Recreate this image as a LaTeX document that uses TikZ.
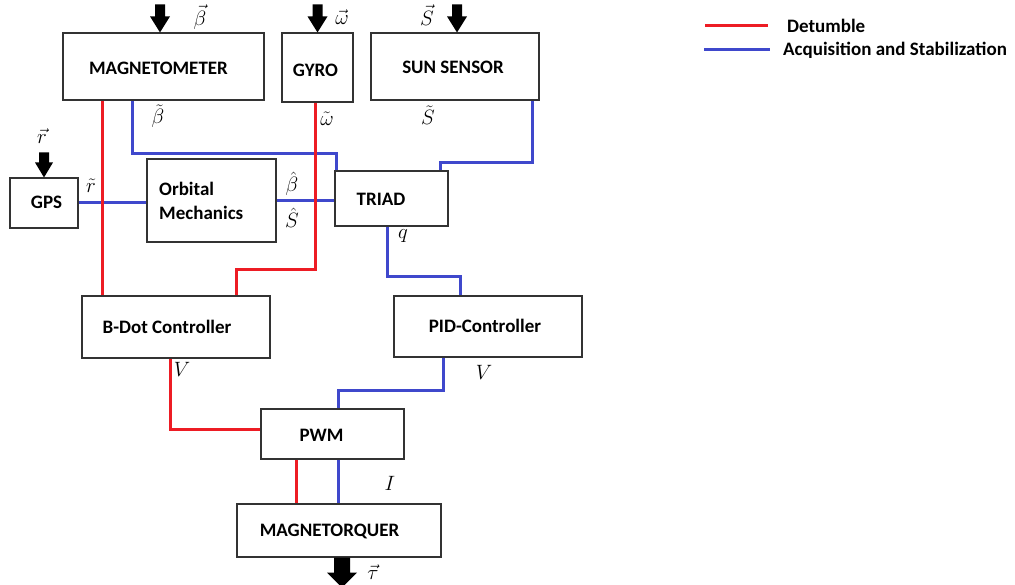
\documentclass[tikz,border=0pt]{standalone}
\usepackage{fontspec}
\setmainfont{Carlito}
\definecolor{detred}{RGB}{237,28,36}
\definecolor{acqblue}{RGB}{63,72,204}
% #1 tip, #2 head half width, #3 head length, #4 shaft half width, #5 shaft length
\newcommand\blockarr[5]{\fill[black] (#1) -- ++(#2,-#3) -- ++(-#2+#4,0) -- ++(0,-#5) -- ++(-2*#4,0) -- ++(0,#5) -- ++(-#2+#4,0) -- cycle;}
\begin{document}
\begin{tikzpicture}[x=1pt,y=-1pt,
  box/.style={draw=black!80, line width=1.1pt, fill=white, inner sep=0pt},
  txt/.style={font=\fontsize{19}{23}\selectfont\bfseries, inner sep=0pt, text=black},
  mlab/.style={font=\fontsize{20}{22}\selectfont, inner sep=0pt},
  det/.style={draw=detred, line width=3pt},
  acq/.style={draw=acqblue, line width=3pt}]
\useasboundingbox[fill=white] (0,0) rectangle (1015,585);

% boxes
\node[box, minimum width=201pt, minimum height=67pt] (mag) at (163.5,66.5) {};
\node[box, minimum width=71pt, minimum height=69pt] (gyro) at (317.5,67.5) {};
\node[box, minimum width=168pt, minimum height=67pt] (sun) at (455,66.5) {};
\node[box, minimum width=68pt, minimum height=50pt] (gps) at (44,203) {};
\node[box, minimum width=129pt, minimum height=83pt] (orb) at (211.5,200.5) {};
\node[box, minimum width=113pt, minimum height=55pt] (triad) at (391.5,198.5) {};
\node[box, minimum width=188pt, minimum height=62pt] (bdot) at (176,327) {};
\node[box, minimum width=188pt, minimum height=61pt] (pid) at (488,326.5) {};
\node[box, minimum width=143pt, minimum height=50pt] (pwm) at (332.5,434) {};
\node[box, minimum width=204pt, minimum height=53pt] (mq) at (339,530.5) {};

% blue connectors
\draw[acq] ([xshift=70pt]mag.south west) -- ++(0,53) -| ([xshift=2pt]triad.north west);
\draw[acq] ([xshift=-7pt]sun.south east) -- ++(0,62) -| ([xshift=-8pt]triad.north east);
\draw[acq] (gps.east) -- (gps.east -| orb.west);
\draw[acq] (orb.east) -- (orb.east -| triad.west);
\draw[acq] ([xshift=53pt]triad.south west) -- ++(0,50) -| ([xshift=-28pt]pid.north);
\draw[acq] ([xshift=-44.5pt]pid.south) -- ++(0,33) -| ([xshift=6pt]pwm.north);
\draw[acq] ([xshift=6pt]pwm.south) -- ([xshift=6pt]pwm.south |- mq.north);

% red connectors
\draw[det] ([xshift=40pt]mag.south west) -- ([xshift=40pt]mag.south west |- bdot.north);
\draw[det] ([xshift=-2.5pt]gyro.south) -- ++(0,167) -| ([xshift=60pt]bdot.north);
\draw[det] ([xshift=-6pt]bdot.south) |- ([yshift=5pt]pwm.west);
\draw[det] ([xshift=-36.5pt]pwm.south) -- ([xshift=-36.5pt]pwm.south |- mq.north);

% box texts
\node[txt] (tmag) at (158.5,68) {MAGNETOMETER};
\node[txt] (tgyro) at (315.5,70) {GYRO};
\node[txt] (tsun) at (453,67) {SUN SENSOR};
\node[txt] (tgps) at (46.5,202) {GPS};
\node[txt, anchor=west, align=left, font=\fontsize{19}{24}\selectfont\bfseries] (torb) at (159,201) {Orbital\\Mechanics};
\node[txt] (ttriad) at (381,199) {TRIAD};
\node[txt] (tbdot) at (167,327) {B-Dot Controller};
\node[txt] (tpid) at (485,326) {PID-Controller};
\node[txt] (tpwm) at (321.5,435) {PWM};
\node[txt] (tmq) at (329.5,531) {MAGNETORQUER};

% input/output arrows
\blockarr{[xshift=-3.5pt]mag.north}{10}{16}{5}{12}
\blockarr{gyro.north}{10}{16}{5}{12}
\blockarr{[xshift=2pt]sun.north}{10}{16}{5}{12}
\blockarr{gps.north}{9}{15}{5}{10}
\blockarr{[xshift=3pt,yshift=-30pt]mq.south}{15}{15}{8}{15}

% math labels
\node[mlab] (lbv) at (200,17) {$\vec{\beta}$};
\node[mlab] (lwv) at (342,17) {$\vec{\omega}$};
\node[mlab] (lsv) at (427,15) {$\vec{S}$};
\node[mlab] (lbt) at (158,116) {$\tilde{\beta}$};
\node[mlab] (lwt) at (327,119) {$\tilde{\omega}$};
\node[mlab] (lst) at (428,115) {$\tilde{S}$};
\node[mlab] (lrv) at (42,136) {$\vec{r}$};
\node[mlab] (lrt) at (91,186) {$\tilde{r}$};
\node[mlab] (lbh) at (292,184) {$\hat{\beta}$};
\node[mlab] (lsh) at (292,218) {$\hat{S}$};
\node[mlab] (lq) at (403,236) {$q$};
\node[mlab] (lv1) at (182,369) {$V$};
\node[mlab] (lv2) at (484,372) {$V$};
\node[mlab] (li) at (390,483) {$I$};
\node[mlab] (ltau) at (373,572) {$\vec{\tau}$};

% legend
\coordinate (ld1) at (705,26);
\coordinate (ld2) at (768,26);
\coordinate (la1) at (704,50);
\coordinate (la2) at (770,50);
\draw[det] (ld1) -- (ld2);
\draw[acq] (la1) -- (la2);
\node[txt, anchor=west] (tdet) at (787,26) {Detumble};
\node[txt, anchor=west] (tacq) at (783,50) {Acquisition and Stabilization};
\end{tikzpicture}
\end{document}
